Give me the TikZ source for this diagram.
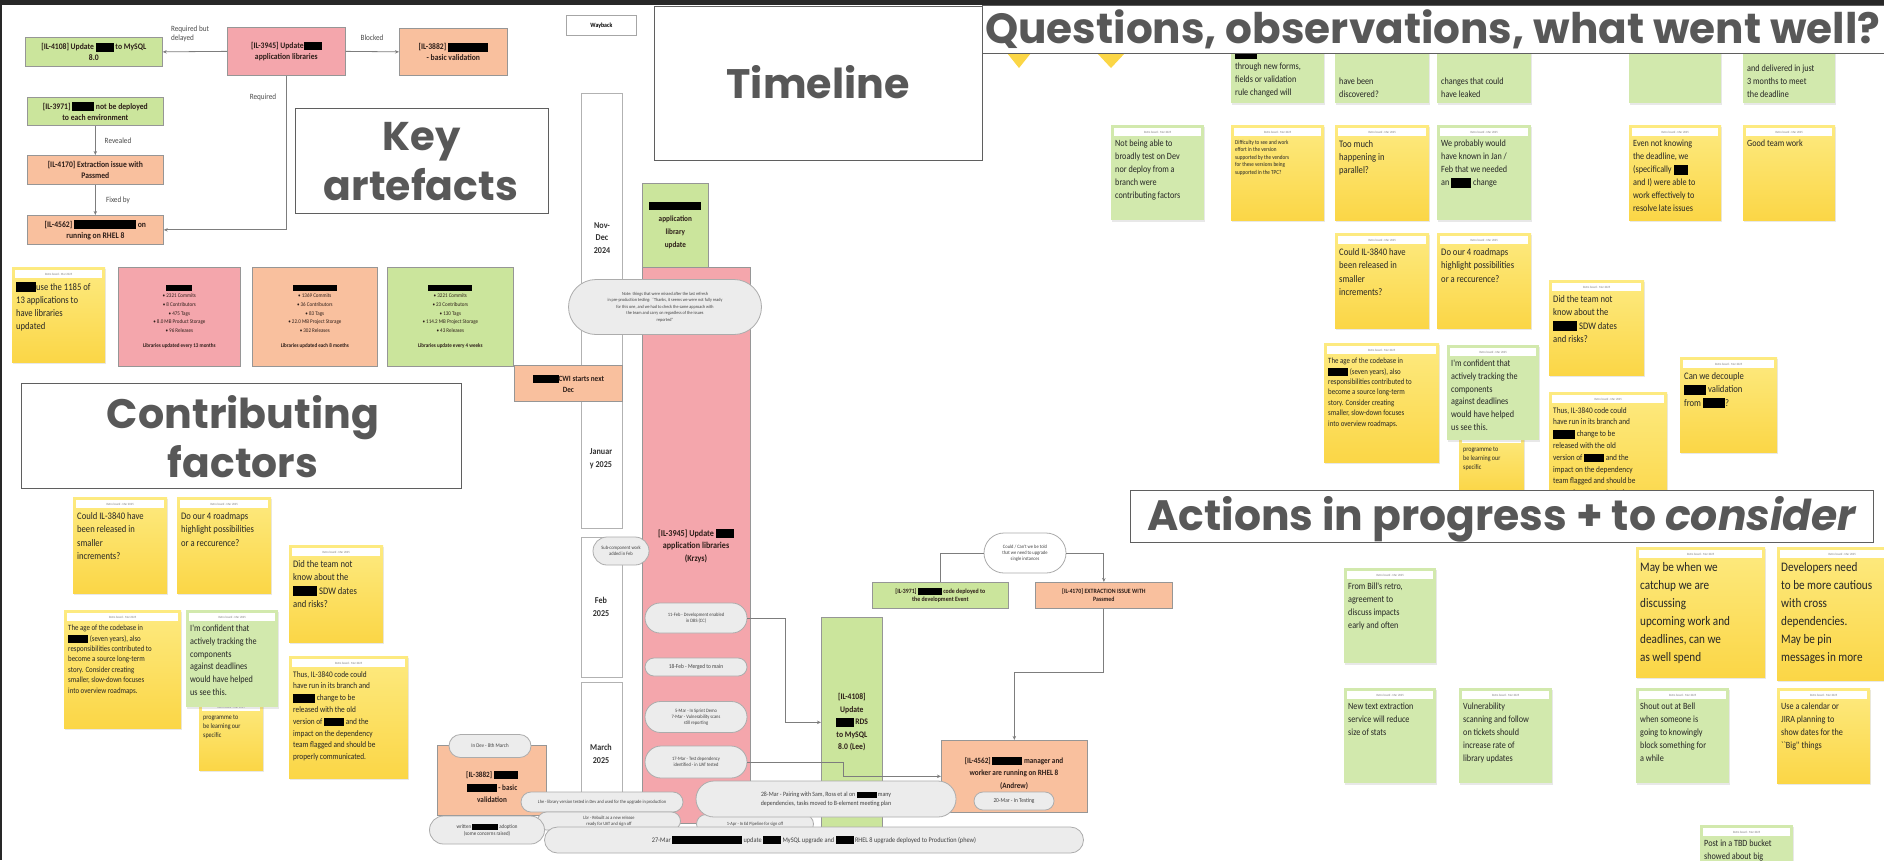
\documentclass[tikz,border=0pt]{standalone}
\usepackage{fontspec}
\usepackage{graphicx}
\setmainfont{Carlito}
\newfontfamily\headfont{Poppins}
\newfontfamily\notefont[FakeStretch=0.86]{Carlito}
\newfontfamily\boxfont[FakeStretch=0.9]{Carlito}
\usetikzlibrary{arrows.meta,shapes.misc,shadows,calc}

\definecolor{pinkbox}{RGB}{244,166,172}
\definecolor{orangebox}{RGB}{249,192,158}
\definecolor{greenbox}{RGB}{203,229,156}
\definecolor{stickyG}{RGB}{210,233,173}
\definecolor{stickyYt}{RGB}{253,234,128}
\definecolor{stickyYb}{RGB}{251,214,70}
\definecolor{headgrey}{RGB}{88,88,88}
\definecolor{headedge}{RGB}{95,95,95}
\definecolor{linegrey}{RGB}{125,125,125}
\definecolor{boxedge}{RGB}{150,150,150}
\definecolor{boxtext}{RGB}{45,30,25}
\definecolor{ovalfill}{RGB}{236,236,236}
\definecolor{framedark}{RGB}{40,40,40}

% redacted word
\newcommand{\rd}[1]{{\color{black}\rule[-0.22em]{#1pt}{1.02em}}}
% big heading text fitted to a width
\newcommand{\headtext}[2]{\resizebox{#1pt}{!}{\color{headgrey}\headfont\bfseries #2}}
% sticky note: name, style, x, y, w, h, font size, leading, text
\newcommand{\stickynote}[9]{%
  \node[#2, minimum width=#5pt, minimum height=#6pt] (#1) at (#3,#4) {};
  \fill[white] ([xshift=3pt,yshift=-3pt]#1.north west) rectangle ([xshift=-3pt,yshift=-11pt]#1.north east);
  \node[notehead] (#1h) at ([yshift=-7pt]#1.north) {Retro board \textperiodcentered{} Mar 2025};
  \node[notetxt, font=\notefont\fontsize{#7}{#8}\selectfont] (#1t) at ([xshift=4pt,yshift=-15pt]#1.north west) {#9};
}
% green note of the first row, its top hidden under the heading
\newcommand{\toprownote}[4]{%
  \node[gnote, minimum width=#3pt, minimum height=88pt] (#1) at (#2,15) {};
  \node[notetxt, anchor=south west, font=\notefont\fontsize{9.5}{13}\selectfont] (#1t) at ([xshift=4pt,yshift=6pt]#1.south west) {#4};
}

\begin{document}
\begin{tikzpicture}[x=1pt,y=-1pt,
  conn/.style={draw=linegrey, line width=0.8pt},
  arr/.style={conn, -{Stealth[length=4pt,width=3.4pt]}},
  tbox/.style={draw=boxedge, line width=0.7pt, anchor=north west, align=center, inner sep=1pt, font=\boxfont\bfseries\fontsize{8.5}{11}\selectfont, text=boxtext},
  pinkb/.style={tbox, fill=pinkbox},
  orangeb/.style={tbox, fill=orangebox},
  greenb/.style={tbox, fill=greenbox},
  lbl/.style={font=\boxfont\fontsize{8}{9}\selectfont, text=black!70, align=left, inner sep=0pt},
  oval/.style={rounded rectangle, draw=gray!65, fill=ovalfill, line width=0.8pt, align=center, inner sep=1pt, font=\boxfont\fontsize{5}{6}\selectfont, text=black!75},
  col/.style={draw=gray!60, line width=0.8pt, fill=white, anchor=north west, minimum width=41pt},
  month/.style={font=\boxfont\bfseries\fontsize{9}{12.5}\selectfont, align=center, text=black!80, inner sep=0pt},
  note/.style={anchor=north west, inner sep=0pt, drop shadow={shadow xshift=0.6pt, shadow yshift=-2.2pt, opacity=0.18}},
  ynote/.style={note, top color=stickyYt, bottom color=stickyYb},
  gnote/.style={note, fill=stickyG},
  notehead/.style={font=\boxfont\fontsize{3.2}{3.6}\selectfont, text=gray, inner sep=0pt},
  notetxt/.style={inner sep=0pt, align=left, text=black!85, anchor=north west},
  headbox/.style={draw=headedge, line width=1.4pt, fill=white, anchor=north west, inner sep=0pt},
  btext/.style={font=\boxfont\bfseries\fontsize{8}{12.5}\selectfont, align=center, text=boxtext, inner sep=0pt}
]
\useasboundingbox (0,0) rectangle (1884,860);
\fill[white] (0,0) rectangle (1884,860);
\fill[framedark] (0,0) rectangle (1884,5);
\fill[framedark] (0,0) rectangle (2,860);

% ---------- key artefacts graph ----------
\node[greenb, minimum width=137pt, minimum height=29pt] (ka1) at (25,37) {[IL-4108] Update \rd{18} to MySQL\\8.0};
\node[pinkb, minimum width=118pt, minimum height=48pt] (ka2) at (227,27) {[IL-3945] Update\rd{18}\\application libraries};
\node[orangeb, minimum width=108pt, minimum height=47pt] (ka3) at (399,28) {[IL-3882] \rd{40}\\- basic validation};
\node[greenb, minimum width=136pt, minimum height=28pt] (ka4) at (27,97) {[IL-3971] \rd{22} not be deployed\\to each environment};
\node[orangeb, minimum width=136pt, minimum height=29pt] (ka5) at (27,155) {[IL-4170] Extraction issue with\\Passmed};
\node[orangeb, minimum width=136pt, minimum height=29pt] (ka6) at (27,215) {[IL-4562] \rd{62} on\\running on RHEL 8};
\draw[arr] (ka2.west) -- (ka1.east);
\node[lbl] (l1) at (190,34) {Required but\\delayed};
\draw[arr] (ka2.east) -- (ka3.west);
\node[lbl] (l2) at (372,38) {Blocked};
\draw[arr] (ka2.south) |- (ka6.east);
\node[lbl] (l3) at (263,97) {Required};
\draw[arr] (ka4.south) -- (ka5.north);
\node[lbl] (l4) at (118,141) {Revealed};
\draw[arr] (ka5.south) -- (ka6.north);
\node[lbl] (l5) at (118,200) {Fixed by};

\node[draw=gray!70, line width=0.8pt, minimum width=70pt, minimum height=20pt, anchor=north west, font=\boxfont\bfseries\fontsize{6.5}{7}\selectfont] (wb) at (566,15) {Wayback};

% ---------- library statistics ----------
\stickynote{y0}{ynote}{12}{267}{93}{95}{10}{13}{\rd{20}use the 1185 of\\13 applications to\\have libraries\\updated}
\node[pinkb, minimum width=122pt, minimum height=99pt, font=\boxfont\fontsize{5.6}{8.6}\selectfont] (st1) at (118,267) {\rd{26}\\\textbullet\ 2321 Commits\\\textbullet\ 8 Contributors\\\textbullet\ 475 Tags\\\textbullet\ 8.0 MB Product Storage\\\textbullet\ 96 Releases\\[7pt]\textbf{Libraries updated every 13 months}};
\node[orangeb, minimum width=125pt, minimum height=99pt, font=\boxfont\fontsize{5.6}{8.6}\selectfont] (st2) at (252,267) {\rd{44}\\\textbullet\ 1369 Commits\\\textbullet\ 36 Contributors\\\textbullet\ 83 Tags\\\textbullet\ 22.0 MB Project Storage\\\textbullet\ 302 Releases\\[7pt]\textbf{Libraries updated each 8 months}};
\node[greenb, minimum width=126pt, minimum height=99pt, font=\boxfont\fontsize{5.6}{8.6}\selectfont] (st3) at (387,267) {\rd{44}\\\textbullet\ 3221 Commits\\\textbullet\ 23 Contributors\\\textbullet\ 130 Tags\\\textbullet\ 114.2 MB Project Storage\\\textbullet\ 43 Releases\\[7pt]\textbf{Libraries update every 4 weeks}};

% ---------- contributing factors notes ----------
\stickynote{la}{ynote}{73}{497}{94}{96}{10}{13.5}{Could IL-3840 have\\been released in\\smaller\\increments?}
\stickynote{lb}{ynote}{177}{497}{94}{96}{10}{13.5}{Do our 4 roadmaps\\highlight possibilities\\or a reccurence?}
\stickynote{lc}{ynote}{289}{545}{94}{97}{10}{13.5}{Did the team not\\know about the\\\rd{24} SDW dates\\and risks?}
\stickynote{ld}{ynote}{64}{610}{117}{118}{8}{10.4}{The age of the codebase in\\\rd{20} (seven years), also\\responsibilities contributed to\\become a source long-term\\story. Consider creating\\smaller, slow-down focuses\\into overview roadmaps.}
\stickynote{lf}{ynote}{199}{700}{64}{70}{7}{9}{programme to\\be learning our\\specific}
\stickynote{le}{gnote}{186}{610}{92}{97}{9.5}{12.7}{I'm confident that\\actively tracking the\\components\\against deadlines\\would have helped\\us see this.}
\stickynote{lg}{ynote}{289}{656}{119}{122}{8.5}{11.8}{Thus, IL-3840 code could\\have run in its branch and\\\rd{22} change to be\\released with the old\\version of \rd{20} and the\\impact on the dependency\\team flagged and should be\\properly communicated.}

% ---------- timeline ----------
\node[col, minimum height=435pt] (c1) at (581,93) {};
\node[col, minimum height=140pt] (c2) at (581,537) {};
\node[col, minimum height=170pt] (c3) at (581,682) {};
\node[month] (m1) at (602,238) {Nov-\\Dec\\2024};
\node[month] (m2) at (601,459) {Januar\\y 2025};
\node[month] (m3) at (601,607) {Feb\\2025};
\node[month] (m4) at (601,754) {March\\2025};

\node[greenb, minimum width=66pt, minimum height=84pt, font=\boxfont\bfseries\fontsize{8}{13}\selectfont] (gapp) at (642,183) {\rd{52}\\application\\library\\update};
\node[pinkb, minimum width=108pt, minimum height=556pt] (pcol) at (642,267) {};
\node[btext, font=\boxfont\bfseries\fontsize{9}{12.5}\selectfont] (pcolt) at (696,546) {[IL-3945] Update \rd{18}\\application libraries\\(Krzys)};
\node[orangeb, minimum width=108pt, minimum height=36pt, font=\boxfont\bfseries\fontsize{8}{11}\selectfont] (cwi) at (514,365) {\rd{26}CWI starts next\\Dec};

\node[oval, minimum width=195pt, minimum height=55pt, font=\boxfont\fontsize{4.6}{6.6}\selectfont] (o1) at (665,307) {Note: things that were missed after the last refresh\\in pre-production testing: ``Thanks, it seems we were not fully ready\\for this one, and we had to check the same approach with\\the team and carry on regardless of the issues\\reported''};
\node[oval, minimum width=58pt, minimum height=28pt] (o2) at (621,551) {Sub-component work\\added in Feb};
\node[oval, minimum width=104pt, minimum height=30pt] (o3) at (696,618) {11-Feb - Development enabled\\in DBS (CC)};
\node[oval, minimum width=104pt, minimum height=18pt, font=\boxfont\fontsize{6}{7}\selectfont] (o4) at (696,667) {18-Feb - Merged to main};
\node[oval, minimum width=104pt, minimum height=31pt] (o5) at (696,717) {5-Mar - In Sprint Demo\\7-Mar - Vulnerability scans\\still reporting};
\node[oval, minimum width=104pt, minimum height=32pt] (o6) at (696,762) {17-Mar - Test dependency\\identified - in UAT tested};

\node[greenb, minimum width=61pt, minimum height=210pt, font=\boxfont\bfseries\fontsize{8.5}{12.5}\selectfont] (g4108) at (821,617) {[IL-4108]\\Update\\\rd{18} RDS\\to MySQL\\8.0 (Lee)};
\draw[arr] (o3.east) -- ++(38,0) |- (g4108.west);

\node[greenb, minimum width=136pt, minimum height=26pt, font=\boxfont\bfseries\fontsize{6.5}{8}\selectfont] (g3971) at (872,582) {[IL-3971] \rd{24} code deployed to\\the development Event};
\node[orangeb, minimum width=137pt, minimum height=26pt, font=\boxfont\bfseries\fontsize{6.5}{8}\selectfont] (o4170) at (1035,582) {[IL-4170] EXTRACTION ISSUE WITH\\Passmed};
\node[oval, fill=white, minimum width=84pt, minimum height=40pt] (ovc) at (1025,553) {Could / Can't we be told\\that we need to upgrade\\single instances};
\draw[conn] (g3971.north) |- (ovc.west);
\draw[arr] (ovc.east) -| (o4170.north);

\node[orangeb, minimum width=146pt, minimum height=72pt] (o4562) at (941,740) {};
\node[btext] (o4562t) at (1014,773) {[IL-4562] \rd{30} manager and\\worker are running on RHEL 8\\(Andrew)};
\node[oval, minimum width=82pt, minimum height=18pt, font=\boxfont\fontsize{6}{7}\selectfont] (o20) at (1014,801) {20-Mar - In Testing};
\draw[arr] (o4170.south) -- ++(0,64) -| (o4562.north);
\draw[arr] (o6.east) -- ++(96,0) |- (o4562.west);

\node[orangeb, minimum width=109pt, minimum height=70pt] (o3882) at (437,745) {};
\node[btext] (o3882t) at (492,787) {[IL-3882] \rd{24}\\\rd{30} - basic\\validation};
\node[oval, minimum width=84pt, minimum height=23pt, font=\boxfont\fontsize{5.5}{6.5}\selectfont] (oin) at (490,746) {In Dev - 8th March};

\node[oval, minimum width=164pt, minimum height=20pt, font=\boxfont\fontsize{4.8}{6}\selectfont] (olhe) at (602,802) {Lhe - library version tested in Dev and used for the upgrade in production};
\node[oval, minimum width=145pt, minimum height=18pt, font=\boxfont\fontsize{4.8}{5.6}\selectfont] (olbr) at (609,821) {Lbr - Rebuilt as a new release\\ready for UAT and sign off};
\node[oval, minimum width=119pt, minimum height=19pt, font=\boxfont\fontsize{4.8}{6}\selectfont] (osm) at (755,824) {1-Apr - In Ed Pipeline for sign off};
\node[oval, minimum width=262pt, minimum height=36pt, font=\boxfont\fontsize{6.5}{8.5}\selectfont] (o28) at (826,799) {28-Mar - Pairing with Sam, Ross et al on \rd{20} many\\dependencies, tasks moved to B-element meeting plan};
\node[oval, minimum width=117pt, minimum height=28pt, font=\boxfont\fontsize{5.5}{6.5}\selectfont] (owr) at (487,830) {written \rd{26} adoption\\(some concerns raised)};
\node[oval, minimum width=541pt, minimum height=26pt, font=\boxfont\fontsize{7}{8}\selectfont] (o27) at (814,840) {27-Mar \rd{70} update \rd{18} MySQL upgrade and \rd{18} RHEL 8 upgrade deployed to Production (phew)};

% ---------- questions / observations notes ----------
\fill[stickyYb] (1007,53) -- (1031,53) -- (1019,68) -- cycle;
\fill[stickyYb] (1097,53) -- (1125,53) -- (1111,68) -- cycle;
\toprownote{n1}{1231}{93}{\rd{22} \\through new forms,\\fields or validation\\rule changed will}
\toprownote{n2}{1335}{94}{have been\\discovered?}
\toprownote{n3}{1437}{94}{changes that could\\have leaked}
\toprownote{n4}{1629}{92}{\\}
\toprownote{n5}{1743}{92}{and delivered in just\\3 months to meet\\the deadline}

\stickynote{m1}{gnote}{1111}{125}{93}{95}{9.5}{13}{Not being able to\\broadly test on Dev\\nor deploy from a\\branch were\\contributing factors}
\stickynote{m2}{ynote}{1231}{125}{93}{95}{6}{7.5}{Difficulty to see and work\\effort in the version\\supported by the vendors\\for these versions being\\supported in the TPC?}
\stickynote{m3}{ynote}{1335}{125}{94}{95}{10}{13}{Too much\\happening in\\parallel?}
\stickynote{m4}{gnote}{1437}{125}{94}{95}{9.5}{13}{We probably would\\have known in Jan /\\Feb that we needed\\an \rd{20} change}
\stickynote{m5}{ynote}{1629}{125}{92}{95}{9.5}{13}{Even not knowing\\the deadline, we\\(specifically \rd{14}\\and I) were able to\\work effectively to\\resolve late issues}
\stickynote{m6}{ynote}{1743}{125}{92}{95}{9.5}{13}{Good team work}

\stickynote{k1}{ynote}{1335}{233}{94}{95}{10}{13.5}{Could IL-3840 have\\been released in\\smaller\\increments?}
\stickynote{k2}{ynote}{1437}{233}{94}{95}{10}{13.5}{Do our 4 roadmaps\\highlight possibilities\\or a reccurence?}
\stickynote{k3}{ynote}{1549}{280}{95}{95}{10}{13.5}{Did the team not\\know about the\\\rd{24} SDW dates\\and risks?}
\stickynote{k4}{ynote}{1324}{343}{115}{119}{8}{10.4}{The age of the codebase in\\\rd{20} (seven years), also\\responsibilities contributed to\\become a source long-term\\story. Consider creating\\smaller, slow-down focuses\\into overview roadmaps.}
\stickynote{k6}{ynote}{1459}{432}{65}{60}{7}{9}{programme to\\be learning our\\specific}
\stickynote{k5}{gnote}{1447}{345}{92}{95}{9.5}{12.7}{I'm confident that\\actively tracking the\\components\\against deadlines\\would have helped\\us see this.}
\stickynote{k7}{ynote}{1549}{392}{118}{122}{8.5}{11.8}{Thus, IL-3840 code could\\have run in its branch and\\\rd{22} change to be\\released with the old\\version of \rd{20} and the\\impact on the dependency\\team flagged and should be\\properly communicated.}
\stickynote{k8}{ynote}{1680}{357}{97}{95}{10}{13.5}{Can we decouple\\\rd{22} validation\\from \rd{22}?}

% ---------- actions ----------
\stickynote{a1}{gnote}{1344}{568}{92}{95}{9.5}{13}{From Bill's retro,\\agreement to\\discuss impacts\\early and often}
\stickynote{a2}{gnote}{1344}{688}{92}{95}{9.5}{13}{New text extraction\\service will reduce\\size of stats}
\stickynote{a3}{gnote}{1459}{688}{93}{95}{9.5}{13}{Vulnerability\\scanning and follow\\on tickets should\\increase rate of\\library updates}
\stickynote{a4}{ynote}{1636}{547}{129}{130}{13}{18}{May be when we\\catchup we are\\discussing\\upcoming work and\\deadlines, can we\\as well spend}
\stickynote{a5}{ynote}{1777}{547}{130}{133}{13}{18}{Developers need\\to be more cautious\\with cross\\dependencies.\\May be pin\\messages in more}
\stickynote{a6}{gnote}{1636}{688}{93}{95}{9.5}{13}{Shout out at Bell\\when someone is\\going to knowingly\\block something for\\a while}
\stickynote{a7}{ynote}{1777}{688}{93}{95}{9.5}{13}{Use a calendar or\\JIRA planning to\\show dates for the\\``Big'' things}
\stickynote{a8}{gnote}{1700}{825}{93}{60}{9.5}{13}{Post in a TBD bucket\\showed about big}

% ---------- section headings ----------
\node[headbox, minimum width=328pt, minimum height=154pt] (htl) at (654,6) {};
\node[anchor=base, inner sep=0pt] (htlt) at (818,98) {\headtext{183}{Timeline}};
\node[headbox, minimum width=253pt, minimum height=105pt] (hka) at (295,108) {};
\node[anchor=base, inner sep=0pt] (hka1) at (422,150) {\headtext{78}{Key}};
\node[anchor=base, inner sep=0pt] (hka2) at (421,200) {\headtext{194}{artefacts}};
\node[headbox, minimum width=440pt, minimum height=105pt] (hcf) at (21,383) {};
\node[anchor=base, inner sep=0pt] (hcf1) at (243,428) {\headtext{272}{Contributing}};
\node[anchor=base, inner sep=0pt] (hcf2) at (243,477) {\headtext{150}{factors}};
\node[headbox, minimum width=910pt, minimum height=48pt] (hq) at (982,5) {};
\node[anchor=base west, inner sep=0pt] (hqt) at (985,43) {\headtext{895}{Questions, observations, what went well?}};
\node[headbox, minimum width=743pt, minimum height=52pt] (ha) at (1130,490) {};
\node[anchor=base west, inner sep=0pt] (hat) at (1147,530) {\headtext{710}{Actions in progress + to \textit{consider}}};
\end{tikzpicture}
\end{document}
